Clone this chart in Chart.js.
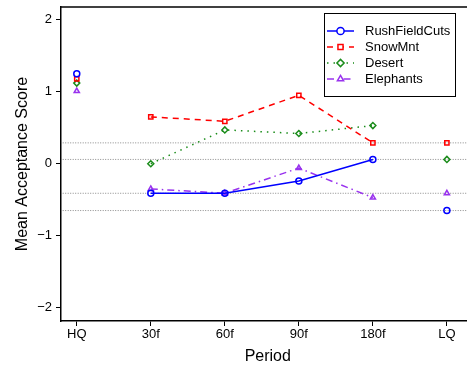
<!DOCTYPE html>
<html><head><meta charset="utf-8">
<script src="https://cdn.jsdelivr.net/npm/chart.js@4"></script>
<style>html,body{margin:0;padding:0;overflow:hidden;background:#fff}#wrap{width:480px;height:366px}</style>
</head><body><div id="wrap"><canvas id="c" width="480" height="366"></canvas></div>
<script>
const periods = ['HQ','30f','60f','90f','180f','LQ'];
const rushFieldCuts = [1.24, -0.42, -0.42, -0.25, 0.05, -0.66];
const snowMnt      = [1.17, 0.64, 0.58, 0.94, 0.28, 0.28];
const desert       = [1.11, -0.01, 0.46, 0.41, 0.52, 0.05];
const elephants    = [1.00, -0.36, -0.42, -0.07, -0.48, -0.42];
const refLevels    = [0.28, 0.05, -0.42, -0.66];
const yTicks = [-2, -1, 0, 1, 2];

const seriesDefs = [
  {label:'RushFieldCuts', data:rushFieldCuts, color:'#0000ff', dash:[], style:'circle', w:1.5},
  {label:'SnowMnt', data:snowMnt, color:'#ff0000', dash:[6,5], style:'rect', w:1.5},
  {label:'Desert', data:desert, color:'#1a8c1a', dash:[1.5,5], style:'rectRot', w:1.5},
  {label:'Elephants', data:elephants, color:'#9933ee', dash:[7,4,1.5,4], style:'triangle', w:1.5}
];

const datasets = [];
refLevels.forEach(v => {
  datasets.push({label:'_ref', data:[{x:-0.19,y:v},{x:5.4,y:v}], borderColor:'#8a8a8a', borderWidth:1, borderDash:[1,1.5], pointRadius:0, order:10});
});
seriesDefs.forEach(s => {
  datasets.push({
    label:s.label,
    data:s.data.map((v,i)=>({x:i,y:v})),
    borderColor:s.color, backgroundColor:'rgba(0,0,0,0)',
    borderWidth:s.w, borderDash:s.dash,
    pointStyle:s.style, pointRadius:3, pointBorderWidth:1.5, pointBorderColor:s.color,
    pointBackgroundColor:'rgba(0,0,0,0)',
    segment:{borderColor: ctx => (ctx.p0DataIndex===0 || ctx.p1DataIndex===periods.length-1) ? 'rgba(0,0,0,0)' : undefined},
    order:1
  });
});

const FONT = 'Liberation Sans, Arial, Helvetica, sans-serif';

const legendPlugin = {
  id:'customLegend',
  afterDatasetsDraw(chart){
    const c = chart.ctx;
    c.save();
    const x0=324.5, y0=13.5, w=131, h=83;
    c.fillStyle='#fff'; c.fillRect(x0,y0,w,h);
    c.strokeStyle='#000'; c.lineWidth=1; c.setLineDash([]);
    c.strokeRect(x0,y0,w,h);
    c.font = '13px ' + FONT;
    c.textBaseline='middle'; c.textAlign='left';
    seriesDefs.forEach((s,i)=>{
      const yy = 31 + i*16;
      c.strokeStyle=s.color; c.lineWidth=s.w; c.setLineDash(s.dash);
      c.beginPath(); c.moveTo(327,yy); c.lineTo(354,yy); c.stroke();
      c.setLineDash([]);
      c.fillStyle='#fff';
      Chart.helpers.drawPoint(c,{pointStyle:s.style, radius:3.6, borderWidth:1.5, rotation:0}, 340.5, yy);
      c.fillStyle='#000';
      c.fillText(s.label, 365, yy+0.5);
    });
    c.restore();
  },
  beforeDatasetsDraw(chart){
    const c = chart.ctx, a = chart.chartArea;
    c.save();
    c.strokeStyle='#000'; c.lineWidth=1.5;
    c.beginPath(); c.moveTo(a.left, a.top); c.lineTo(a.right, a.top); c.stroke();
    c.restore();
  }
};

new Chart(document.getElementById('c'), {
  type:'line',
  data:{datasets},
  options:{
    responsive:false, animation:false,
    layout:{padding:{top:7,right:0,left:0,bottom:0}},
    plugins:{legend:{display:false}, tooltip:{enabled:false}},
    scales:{
      x:{
        type:'linear', min:-0.213, max:5.373,
        afterBuildTicks: sc => { sc.ticks = periods.map((p,i)=>({value:i})); },
        afterFit: sc => { sc.height = 45; sc.paddingLeft = 0; sc.paddingRight = 0; },
        ticks:{callback:(v)=>periods[v], color:'#000', font:{family:FONT,size:13}, padding:1, maxRotation:0, autoSkip:false},
        grid:{drawOnChartArea:false, drawTicks:true, tickLength:5, color:'#000', lineWidth:1},
        border:{display:true, color:'#000', width:1.5},
        title:{display:true, text:'Period', color:'#000', font:{family:FONT,size:16}, padding:{top:0,bottom:0}}
      },
      y:{
        type:'linear', min:-2.194, max:2.167,
        afterBuildTicks: sc => { sc.ticks = yTicks.map(v=>({value:v})); },
        afterFit: sc => { sc.width = 61; sc.paddingTop = 0; sc.paddingBottom = 0; },
        ticks:{callback:(v)=> v<0 ? '\u2212'+Math.abs(v) : String(v), color:'#000', font:{family:FONT,size:13}, padding:4},
        grid:{drawOnChartArea:false, drawTicks:true, tickLength:5, color:'#000', lineWidth:1},
        border:{display:true, color:'#000', width:1.5},
        title:{display:true, text:'Mean Acceptance Score', color:'#000', font:{family:FONT,size:16}, padding:{top:13,bottom:0}}
      }
    }
  },
  plugins:[legendPlugin]
});
</script></body></html>
